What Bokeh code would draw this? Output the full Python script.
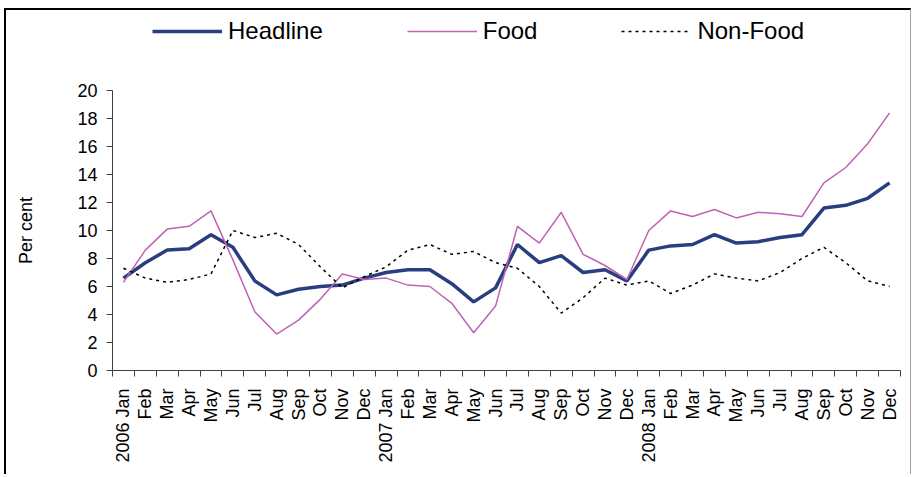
from bokeh.plotting import figure
from bokeh.models import Range1d, FixedTicker, Legend, LegendItem
from bokeh.embed import file_html
from bokeh.resources import INLINE
import math

months = ["Jan", "Feb", "Mar", "Apr", "May", "Jun", "Jul", "Aug", "Sep", "Oct", "Nov", "Dec"]
years = ["2006", "2007", "2008"]
tick_labels = []
for y in years:
    for i, m in enumerate(months):
        tick_labels.append(f"{y} {m}" if i == 0 else m)

headline = [6.6, 7.7, 8.6, 8.7, 9.7, 8.8, 6.4, 5.4, 5.8, 6.0, 6.1, 6.6,
            7.0, 7.2, 7.2, 6.2, 4.9, 5.9, 9.0, 7.7, 8.2, 7.0, 7.2, 6.4,
            8.6, 8.9, 9.0, 9.7, 9.1, 9.2, 9.5, 9.7, 11.6, 11.8, 12.3, 13.4]
food = [6.3, 8.6, 10.1, 10.3, 11.4, 7.9, 4.2, 2.6, 3.6, 5.1, 6.9, 6.5,
        6.6, 6.1, 6.0, 4.8, 2.7, 4.6, 10.3, 9.1, 11.3, 8.3, 7.5, 6.5,
        10.0, 11.4, 11.0, 11.5, 10.9, 11.3, 11.2, 11.0, 13.4, 14.5, 16.2, 18.4]
nonfood = [7.3, 6.6, 6.3, 6.5, 6.9, 10.0, 9.5, 9.8, 9.0, 7.4, 5.9, 6.7,
           7.4, 8.6, 9.0, 8.3, 8.5, 7.7, 7.3, 6.0, 4.1, 5.2, 6.6, 6.1,
           6.4, 5.5, 6.1, 6.9, 6.6, 6.4, 7.0, 8.0, 8.8, 7.7, 6.4, 6.0]
y_ticks = list(range(0, 21, 2))
y_axis_max = 20
y_title = "Per cent"

x = list(range(len(tick_labels)))
FONT = "Liberation Sans"

# frame spans 360 px for 0..(360/14) so that 0..20 occupies the same 280 px
p = figure(width=907, height=466, output_backend="svg", toolbar_location=None,
           x_range=Range1d(-0.5, len(x) - 0.5), y_range=Range1d(0, 360 / 14),
           min_border_left=106, min_border_right=13, min_border_top=0,
           min_border_bottom=106)
p.styles = {"margin-left": "4px", "margin-top": "8px",
            "border-left": "2px solid #000000", "border-top": "2px solid #000000",
            "border-right": "1px solid #a0a0a0"}
p.outline_line_color = None
p.xgrid.visible = False
p.ygrid.visible = False

r_head = p.line(x, headline, line_color="#283e7e", line_width=3.5)
r_food = p.line(x, food, line_color="#c062b4", line_width=1.5)
r_non = p.line(x, nonfood, line_color="#000000", line_width=1.5, line_dash="3 4")

xa = p.xaxis[0]
xa.ticker = FixedTicker(ticks=x, minor_ticks=[i - 0.5 for i in range(len(x) + 1)])
xa.major_label_overrides = {i: lab for i, lab in enumerate(tick_labels)}
xa.major_label_orientation = math.pi / 2
xa.major_tick_out = 0
xa.major_tick_in = 0
xa.minor_tick_out = 6
xa.minor_tick_in = 0
xa.minor_tick_line_color = "#404040"
xa.major_label_standoff = 12
xa.major_label_text_font = FONT
xa.major_label_text_font_size = "18px"
xa.major_label_text_color = "#000000"
xa.axis_line_color = "#404040"

ya = p.yaxis[0]
ya.ticker = FixedTicker(ticks=y_ticks)
ya.bounds = (0, y_axis_max)
ya.minor_tick_line_color = None
ya.major_tick_out = 6
ya.major_tick_in = 0
ya.major_tick_line_color = "#404040"
ya.axis_line_color = "#404040"
ya.major_label_standoff = 9
ya.major_label_text_font = FONT
ya.major_label_text_font_size = "18px"
ya.major_label_text_color = "#000000"
# trailing no-break spaces shift the centred title down to the middle of 0..20
ya.axis_label = y_title + "\u00a0" * 16
ya.axis_label_text_font = FONT
ya.axis_label_text_font_size = "18px"
ya.axis_label_text_font_style = "normal"
ya.axis_label_text_color = "#000000"
ya.axis_label_standoff = 38

legend = Legend(items=[LegendItem(label="Headline", renderers=[r_head]),
                       LegendItem(label="Food", renderers=[r_food]),
                       LegendItem(label="Non-Food", renderers=[r_non])],
                orientation="horizontal", location=(40, 325),
                glyph_width=70, glyph_height=26, label_height=26,
                label_standoff=6, spacing=84,
                padding=0, margin=0, border_line_color=None,
                background_fill_alpha=0,
                label_text_font=FONT, label_text_font_size="24px",
                label_text_color="#000000")
p.add_layout(legend, "center")

open("out.html", "w").write(file_html(p, INLINE))
